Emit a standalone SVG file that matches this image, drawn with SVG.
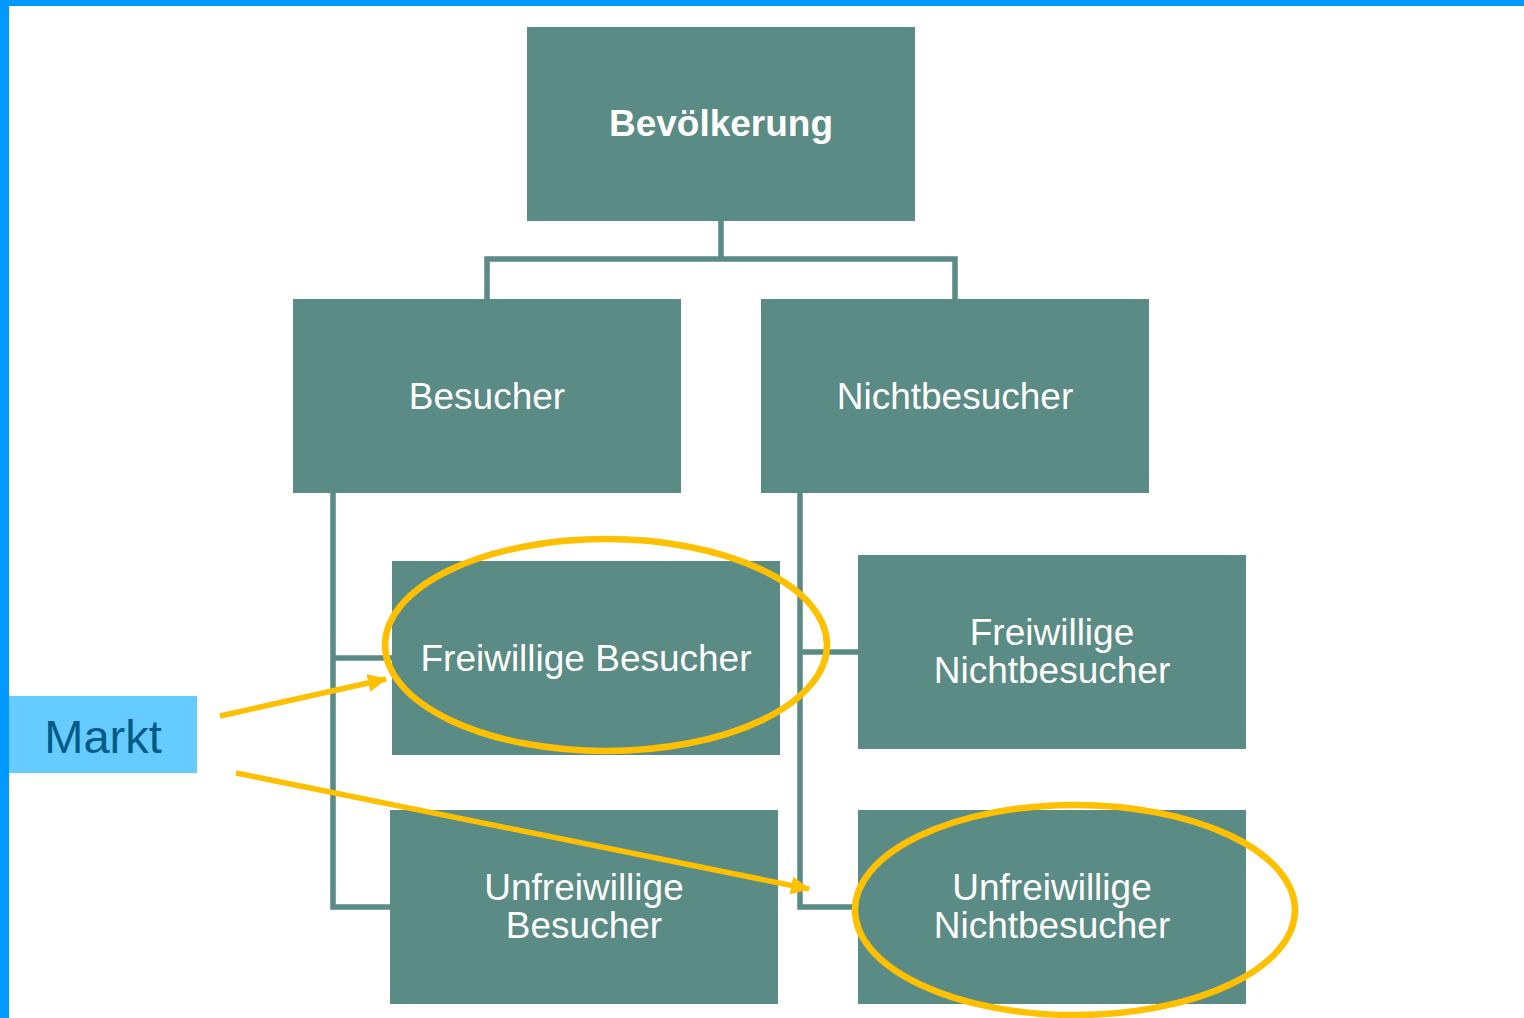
<svg xmlns="http://www.w3.org/2000/svg" width="1524" height="1018" viewBox="0 0 1524 1018">
  <style>
    .box { fill: #5A8B84; }
    .lbl { font-family: "Liberation Sans", Arial, sans-serif; font-size: 37px; fill: #FFFFFF; text-anchor: middle; }
    .bold { font-weight: bold; }
    .conn { fill: none; stroke: #5A8B84; stroke-width: 5.5; stroke-linejoin: miter; }
    .hl { fill: none; stroke: #FFC000; stroke-width: 6.5; }
    .arrow { fill: none; stroke: #FFC000; stroke-width: 5.5; }
  </style>
  <defs>
    <marker id="head" markerUnits="userSpaceOnUse" markerWidth="20" markerHeight="18" refX="18" refY="9" orient="auto">
      <path d="M0,0 L19,9 L0,18 Z" fill="#FFC000"/>
    </marker>
  </defs>

  <rect width="1524" height="1018" fill="#FFFFFF"/>
  <!-- frame -->
  <rect x="0" y="0" width="1524" height="6" fill="#0099FF"/>
  <rect x="0" y="0" width="9" height="1018" fill="#0099FF"/>

  <!-- tree connectors -->
  <g id="connectors">
    <path class="conn" d="M721,221 V259"/>
    <path class="conn" d="M487,299 V259 H955 V299"/>
    <path class="conn" d="M333,493 V907 H390"/>
    <path class="conn" d="M333,658 H392"/>
    <path class="conn" d="M800,493 V907 H858"/>
    <path class="conn" d="M800,652 H858"/>
  </g>

  <g id="bevoelkerung">
    <rect class="box" x="527" y="27" width="388" height="194"/>
    <text class="lbl bold" x="721" y="136">Bevölkerung</text>
  </g>
  <g id="besucher">
    <rect class="box" x="293" y="299" width="388" height="194"/>
    <text class="lbl" x="487" y="409">Besucher</text>
  </g>
  <g id="nichtbesucher">
    <rect class="box" x="761" y="299" width="388" height="194"/>
    <text class="lbl" x="955" y="409">Nichtbesucher</text>
  </g>
  <g id="freiwillige-besucher">
    <rect class="box" x="392" y="561" width="388" height="194"/>
    <text class="lbl" x="586" y="671">Freiwillige Besucher</text>
  </g>
  <g id="freiwillige-nichtbesucher">
    <rect class="box" x="858" y="555" width="388" height="194"/>
    <text class="lbl" x="1052" y="645">Freiwillige</text>
    <text class="lbl" x="1052" y="683">Nichtbesucher</text>
  </g>
  <g id="unfreiwillige-besucher">
    <rect class="box" x="390" y="810" width="388" height="194"/>
    <text class="lbl" x="584" y="900">Unfreiwillige</text>
    <text class="lbl" x="584" y="938">Besucher</text>
  </g>
  <g id="unfreiwillige-nichtbesucher">
    <rect class="box" x="858" y="810" width="388" height="194"/>
    <text class="lbl" x="1052" y="900">Unfreiwillige</text>
    <text class="lbl" x="1052" y="938">Nichtbesucher</text>
  </g>

  <!-- market highlight rings -->
  <g id="highlights">
    <ellipse class="hl" cx="606" cy="645" rx="221" ry="106"/>
    <ellipse class="hl" cx="1075" cy="910" rx="220" ry="105"/>
  </g>

  <g id="markt">
    <rect x="9" y="696" width="188" height="77" fill="#66CCFF"/>
    <text x="103" y="753" font-family="Liberation Sans, Arial, sans-serif" font-size="47" fill="#005A87" text-anchor="middle">Markt</text>
  </g>

  <g id="markt-arrows">
    <path class="arrow" d="M220,716 L386,679" marker-end="url(#head)"/>
    <path class="arrow" d="M236,773 L809,889" marker-end="url(#head)"/>
  </g>
</svg>
